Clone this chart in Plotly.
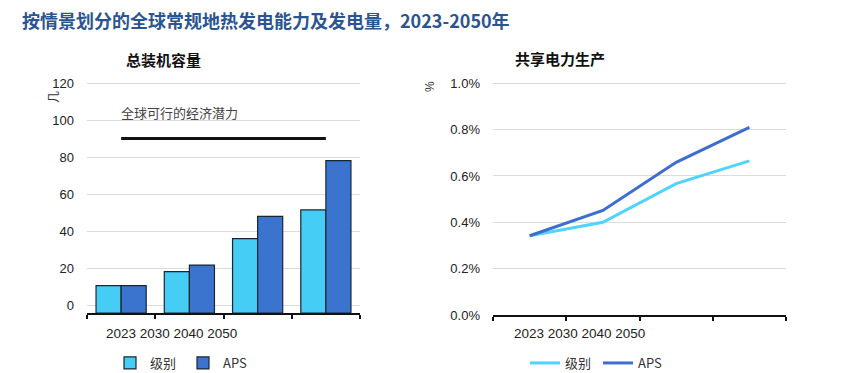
import plotly.graph_objects as go

categories = ["2023", "2030", "2040", "2050"]
tick_labels = ["2023", "2030", "2040", "2050"]
series_names = ["级别", "APS"]
capacity_base = [10.5, 18.1, 35.9, 51.4]
capacity_aps = [10.5, 21.6, 47.9, 78.1]
capacity_ticks = [0, 20, 40, 60, 80, 100, 120]
potential = 90
potential_label = "全球可行的经济潜力"
share_base = [0.342, 0.400, 0.567, 0.665]
share_aps = [0.342, 0.451, 0.659, 0.810]
share_ticks = [0.0, 0.2, 0.4, 0.6, 0.8, 1.0]
share_tick_labels = ["0.0%", "0.2%", "0.4%", "0.6%", "0.8%", "1.0%"]

LIGHT = "#45CDF6"
DARK = "#3A74CF"
LINE_LIGHT = "#4FD3FF"
LINE_DARK = "#3D6ECF"
TICKFONT = dict(family="Liberation Sans, Arial, sans-serif", size=13, color="#222")
CJK = "Noto Sans CJK SC"
AXIS_OFFSET = 4.3  # gap between zero gridline and the category axis line

# page body has an 8px margin; work in reference pixel coordinates and shift
OFF = 8
W, H = 864 - OFF, 373 - OFF


def px(x):
    return (x - OFF) / W


def py(y):
    return 1 - (y - OFF) / H


fig = go.Figure()

fig.add_trace(go.Bar(x=categories, y=[v + AXIS_OFFSET for v in capacity_base], name=series_names[0],
                     base=-AXIS_OFFSET,
                     marker=dict(color=LIGHT, line=dict(color="#1b2633", width=1.2)),
                     xaxis="x", yaxis="y", legend="legend"))
fig.add_trace(go.Bar(x=categories, y=[v + AXIS_OFFSET for v in capacity_aps], name=series_names[1],
                     base=-AXIS_OFFSET,
                     marker=dict(color=DARK, line=dict(color="#1b2633", width=1.2)),
                     xaxis="x", yaxis="y", legend="legend"))

fig.add_trace(go.Scatter(x=categories, y=share_base, name=series_names[0], mode="lines",
                         line=dict(color=LINE_LIGHT, width=3), xaxis="x2", yaxis="y2",
                         legend="legend2"))
fig.add_trace(go.Scatter(x=categories, y=share_aps, name=series_names[1], mode="lines",
                         line=dict(color=LINE_DARK, width=3), xaxis="x2", yaxis="y2",
                         legend="legend2"))

fig.add_shape(type="line", xref="x", yref="y", x0=0, x1=3, y0=potential, y1=potential,
              line=dict(color="#111", width=3))
fig.add_annotation(xref="x", yref="y", x=-0.03, y=potential + 8, text=potential_label,
                   showarrow=False, xanchor="left", yanchor="bottom",
                   font=dict(family=CJK, size=13, color="#444"))

common_x = dict(type="category", showline=True, linecolor="#111", linewidth=1.5,
                ticks="outside", ticklen=4, tickcolor="#111", tickwidth=1.5,
                tickson="boundaries", showticklabels=False, showgrid=False,
                fixedrange=True)

fig.update_layout(
    width=W, height=H,
    margin=dict(l=0, r=0, t=0, b=0, autoexpand=False),
    paper_bgcolor="white", plot_bgcolor="white",
    barmode="group", bargap=0.265, bargroupgap=0,
    xaxis=dict(domain=[px(87), px(360)], anchor="y", range=[-0.5, 3.5], **common_x),
    yaxis=dict(domain=[py(313), py(81.2)], anchor="x", range=[-AXIS_OFFSET, 121],
               tickvals=capacity_ticks,
               showgrid=True, gridcolor="#dcdcdc", gridwidth=1, zeroline=False,
               showline=False, ticks="", tickfont=TICKFONT, ticklabelstandoff=12),
    xaxis2=dict(domain=[px(493), px(786)], anchor="y2", range=[-0.5, 3.5], **common_x),
    yaxis2=dict(domain=[py(315), py(81)], anchor="x2", range=[0, 1.01],
                tickvals=share_ticks, ticktext=share_tick_labels,
                showgrid=True, gridcolor="#dcdcdc",
                gridwidth=1, zeroline=False, showline=False, ticks="", tickfont=TICKFONT,
                ticklabelstandoff=12),
    legend=dict(orientation="h", x=px(183), y=py(363), xanchor="center", yanchor="middle",
                font=dict(family=CJK, size=13, color="#333"), itemwidth=30,
                entrywidth=28, entrywidthmode="pixels",
                bgcolor="rgba(0,0,0,0)"),
    legend2=dict(orientation="h", x=px(598), y=py(363), xanchor="center", yanchor="middle",
                 font=dict(family=CJK, size=13, color="#333"), itemwidth=30,
                 entrywidth=28, entrywidthmode="pixels",
                 bgcolor="rgba(0,0,0,0)"),
    showlegend=True,
)

fig.add_annotation(xref="paper", yref="paper", x=px(20), y=py(19.5), xanchor="left", yanchor="middle",
                   text="<b>按情景划分的全球常规地热发电能力及发电量，2023-2050年</b>", showarrow=False,
                   font=dict(family=CJK, size=18, color="#2B5590"))
fig.add_annotation(xref="paper", yref="paper", x=px(163), y=py(60), xanchor="center", yanchor="middle",
                   text="<b>总装机容量</b>", showarrow=False,
                   font=dict(family=CJK, size=15, color="#111"))
fig.add_annotation(xref="paper", yref="paper", x=px(560), y=py(59), xanchor="center", yanchor="middle",
                   text="<b>共享电力生产</b>", showarrow=False,
                   font=dict(family=CJK, size=15, color="#111"))
fig.add_annotation(xref="paper", yref="paper", x=px(52), y=py(97), xanchor="center", yanchor="middle",
                   text="几", textangle=-90, showarrow=False,
                   font=dict(family=CJK, size=12, color="#333"))
fig.add_annotation(xref="paper", yref="paper", x=px(430), y=py(87), xanchor="center", yanchor="middle",
                   text="%", textangle=-90, showarrow=False,
                   font=dict(family="Liberation Sans, Arial", size=12, color="#333"))
joined = " ".join(tick_labels)
XLABFONT = dict(TICKFONT, size=13.5)
fig.add_annotation(xref="paper", yref="paper", x=px(104), y=py(333), xanchor="left", yanchor="middle",
                   text=joined, showarrow=False, font=XLABFONT)
fig.add_annotation(xref="paper", yref="paper", x=px(512), y=py(333), xanchor="left", yanchor="middle",
                   text=joined, showarrow=False, font=XLABFONT)

fig.write_html("out.html")
